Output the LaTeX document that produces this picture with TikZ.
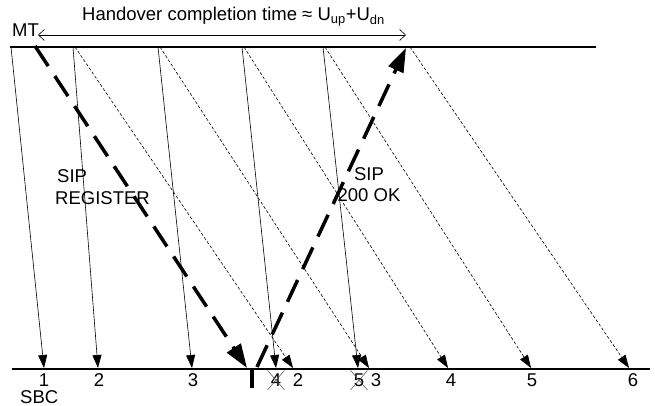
\documentclass[tikz,border=0pt]{standalone}
\usepackage{fontspec}
\setmainfont{Liberation Sans}
\usetikzlibrary{arrows.meta,shapes.misc}

\begin{document}
\begin{tikzpicture}[x=1pt,y=-1pt,
  axis/.style={line width=2.4pt},
  sent/.style={line width=0.6pt,-{Triangle[length=13pt,width=9pt]}},
  resent/.style={line width=0.6pt,dash pattern=on 3pt off 2pt,-{Triangle[length=13pt,width=9pt]}},
  sipmsg/.style={line width=3.5pt,dash pattern=on 24pt off 12pt,-{Triangle[length=24pt,width=16pt]}},
  lbl/.style={font=\fontsize{18.5}{21.5}\selectfont,inner sep=0pt},
  lost/.style={lbl,cross out,draw=black!70,line width=0.5pt,inner sep=3pt}]
\useasboundingbox (0,0) rectangle (655,406);
% time lines of MT and SBC
\coordinate (mtl) at (10,47);\coordinate (mtr) at (596,47);
\coordinate (sbcl) at (12,369);\coordinate (sbcr) at (650,369);
\draw[axis] (mtl)--(mtr);
\draw[axis] (sbcl)--(sbcr);
\node[lbl,anchor=base west] (mt) at (12,37) {MT};
\node[lbl,anchor=base west] (sbc) at (20,403.5) {SBC};
% sending instants at the MT
\coordinate (t1) at (11,47);\coordinate (t2) at (73,47);\coordinate (t3) at (158,47);
\coordinate (t4) at (242,47);\coordinate (t5) at (323,47);\coordinate (t6) at (408,47);
% arrivals at the SBC
\coordinate (b1) at (44,368);\coordinate (b2) at (98,368);\coordinate (b3) at (192,368);
\coordinate (b4) at (276,368);\coordinate (b5) at (358,368);
\coordinate (r2) at (293,368);\coordinate (r3) at (369,368);\coordinate (r4) at (448,368);
\coordinate (r5) at (531,368);\coordinate (r6) at (629,368);
\draw[sent] (t1)--(b1);\draw[sent] (t2)--(b2);\draw[sent] (t3)--(b3);
\draw[sent] (t4)--(b4);\draw[sent] (t5)--(b5);
\draw[resent] ([xshift=2pt]t2)--(r2);\draw[resent] ([xshift=2pt]t3)--(r3);
\draw[resent] ([xshift=2pt]t4)--(r4);\draw[resent] ([xshift=2pt]t5)--(r5);
\draw[resent] ([xshift=2pt]t6)--(r6);
% packet numbers at the SBC
\node[lbl,anchor=base] (n1) at (44,386.5) {1};\node[lbl,anchor=base] (n2) at (99,386.5) {2};
\node[lbl,anchor=base] (n3) at (193,386.5) {3};
\node[lost,anchor=base] (x4) at (276,386.5) {4};\node[lbl,anchor=base] (m2) at (298,386.5) {2};
\node[lost,anchor=base] (x5) at (359,386.5) {5};\node[lbl,anchor=base] (m3) at (376,386.5) {3};
\node[lbl,anchor=base] (m4) at (451,386.5) {4};\node[lbl,anchor=base] (m5) at (532,386.5) {5};
\node[lbl,anchor=base] (m6) at (633,386.5) {6};
% SIP signalling
\coordinate (reg0) at (35,46);\coordinate (reg1) at (247,368);
\coordinate (ok0) at (257,367);\coordinate (ok1) at (406,48);
\draw[sipmsg] (reg0)--(reg1);
\draw[sipmsg] (ok0)--(ok1);
\coordinate (tk0) at (252,369);\coordinate (tk1) at (252,388);
\draw[line width=3.5pt] (tk0)--(tk1);
\node[lbl,anchor=north west,align=left] (reg) at (55,169.5) {\hspace*{2pt}SIP\\REGISTER};
\node[lbl,anchor=north,align=center] (ok) at (369,167) {SIP\\200 OK};
% handover completion time
\coordinate (h0) at (38,35);\coordinate (h1) at (406,35);
\draw[line width=0.6pt,{Straight Barb[length=6pt,width=11pt]}-{Straight Barb[length=6pt,width=11pt]}] (h0)--(h1);
\node[lbl,anchor=base west] (hct) at (82,21) {Handover completion time ≈ U\textsubscript{up}+U\textsubscript{dn}};
\end{tikzpicture}
\end{document}
